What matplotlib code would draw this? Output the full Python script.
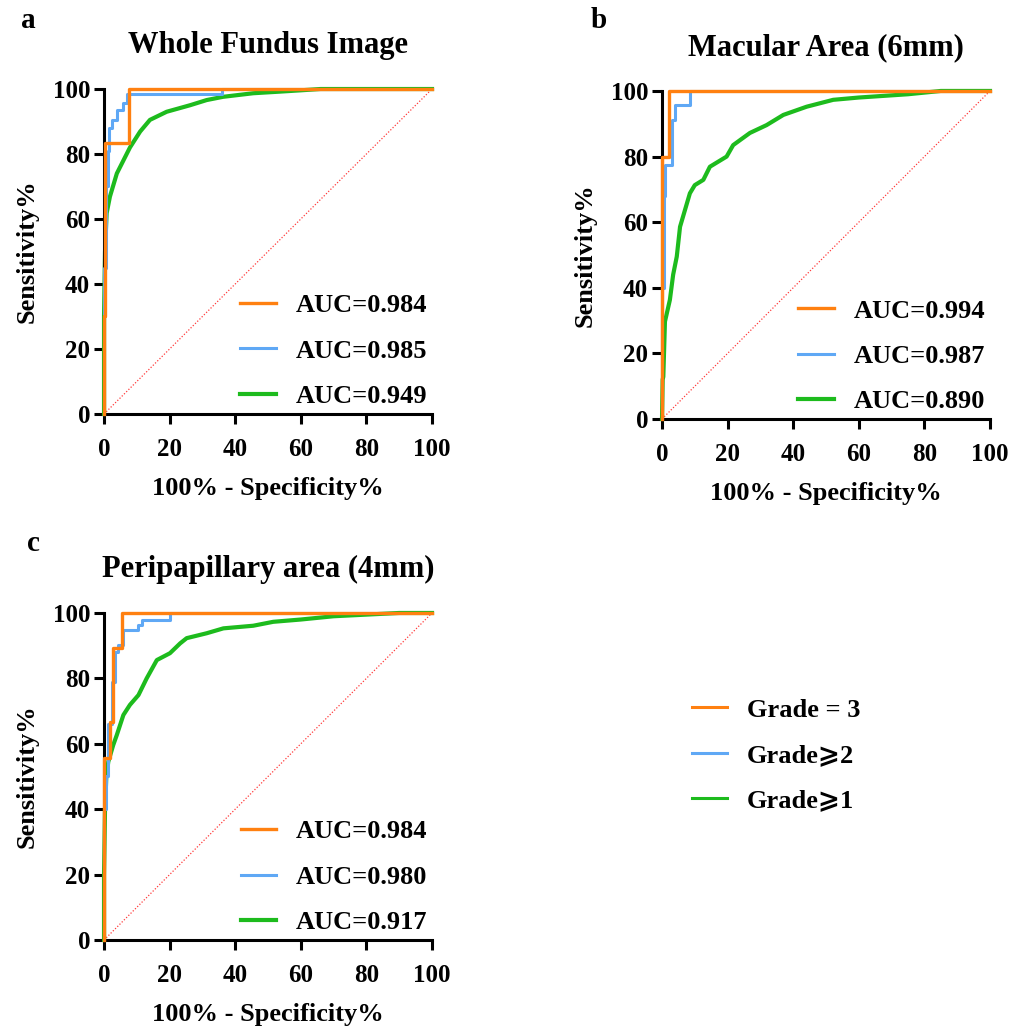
"""Curvas ROC por region: Whole fundus, macular, peripapilar."""

import matplotlib

matplotlib.use("Agg")
import matplotlib.pyplot as plt
from matplotlib.lines import Line2D

FAMILY = ["Liberation Serif", "DejaVu Serif", "DejaVu Sans"]
plt.rcParams["font.family"] = FAMILY
plt.rcParams["font.weight"] = "bold"

ORANGE = "#FF8010"
BLUE = "#5FA8F5"
GREEN = "#1DBB1D"

grades = ["Grade = 3", "Grade\u2a7e2", "Grade\u2a7e1"]

# --- a: Whole Fundus Image (vertices = top of each vertical jump, steps-post) ---
a_auc = ["AUC=0.984", "AUC=0.985", "AUC=0.949"]
a_g3_fpr = [0, 0, 0.3, 7.7, 100]
a_g3_tpr = [0, 30, 83.3, 100, 100]
a_g2_fpr = [0, 0, 0.6, 1.2, 1.5, 2.5, 3.9, 5.8, 6.9, 35.9, 100]
a_g2_tpr = [0, 45, 70, 81, 88, 90.5, 93.5, 95.7, 98.4, 100, 100]
a_g1_fpr = [0, 0, 0.3, 0.8, 1.8, 3.9, 5.9, 7.9, 11, 14, 19.1, 26.2, 31.3, 36.3, 45.5, 53.7, 60, 66, 100]
a_g1_tpr = [0, 30, 50, 61.8, 66.9, 74, 78, 82, 86.9, 90.5, 93, 95, 96.6, 97.6, 98.7, 99.2, 99.6, 100, 100]

# --- b: Macular Area (6mm) ---
b_auc = ["AUC=0.994", "AUC=0.987", "AUC=0.890"]
b_g3_fpr = [0, 0, 2.2, 100]
b_g3_tpr = [0, 80, 100, 100]
b_g2_fpr = [0, 0, 0.5, 0.9, 2.9, 4.0, 8.5, 100]
b_g2_tpr = [0, 40, 68, 77.4, 91, 95.7, 100, 100]
b_g1_fpr = [0, 0.2, 0.4, 0.9, 2.4, 3.4, 4.5, 5.5, 7, 8.5, 10, 12.6, 14.6, 19.7, 21.7,
            26.8, 31.9, 37, 44.1, 52.2, 60, 75, 85, 100]
b_g1_tpr = [0, 12, 12.9, 29.7, 36.3, 44, 49.5, 58.6, 63.7, 68.8, 71.3, 72.9, 76.9, 80,
            83.5, 87.2, 89.6, 92.7, 95.2, 97.3, 98, 99, 100, 100]

# --- c: Peripapillary area (4mm) ---
c_auc = ["AUC=0.984", "AUC=0.980", "AUC=0.917"]
c_g3_fpr = [0, 0, 1.8, 2.8, 5.4, 100]
c_g3_tpr = [0, 55.6, 66.8, 89.3, 100, 100]
c_g2_fpr = [0, 0, 0.6, 1.2, 2.3, 3.4, 4.4, 5.9, 10.5, 11.5, 20.1, 100]
c_g2_tpr = [0, 40, 50, 66, 79, 88.2, 90.2, 94.8, 96.3, 97.9, 100, 100]
c_g1_fpr = [0, 0, 0.3, 0.7, 1.3, 2.8, 3.9, 5.9, 7.9, 10.5, 13, 16.1, 20.1, 23.2, 25.2,
            31.3, 36.4, 45.5, 51.6, 60, 70, 90, 100]
c_g1_tpr = [0, 20, 40, 50, 54.5, 59.6, 62.7, 68.8, 71.9, 74.9, 80, 85.6, 87.7, 90.7,
            92.3, 93.8, 95.3, 96.1, 97.3, 98, 99, 100, 100]

ticks = [0, 20, 40, 60, 80, 100]

fig = plt.figure(figsize=(10.11, 10.29), dpi=100)


def roc_panel(rect, title, curves, auc_labels):
    ax = fig.add_axes(rect)
    ax.plot([0, 100], [0, 100], color="#FF3B3B", linestyle=(0, (1, 1.5)), linewidth=0.9)
    handles = []
    for (fpr, tpr, color, lw, step) in curves:
        (h,) = ax.plot(fpr, tpr, color=color, linewidth=lw, clip_on=False,
                       drawstyle="steps-post" if step else "default")
        handles.append(h)
    # el orden de dibujo: verde debajo, naranja arriba
    handles[0].set_zorder(4)
    handles[1].set_zorder(3)
    handles[2].set_zorder(2)
    ax.set_xlim(0, 100)
    ax.set_ylim(0, 100)
    ax.set_xticks(ticks)
    ax.set_yticks(ticks)
    for s in ["top", "right"]:
        ax.spines[s].set_visible(False)
    for s in ["left", "bottom"]:
        ax.spines[s].set_linewidth(2.2)
    ax.tick_params(width=2.2, length=7, labelsize=18)
    ax.tick_params(axis="x", pad=10)
    ax.tick_params(axis="y", pad=3)
    for lab in ax.get_xticklabels() + ax.get_yticklabels():
        lab.set_fontweight("bold")
    ax.set_xlabel("100% - Specificity%", fontsize=19, fontweight="bold", labelpad=12)
    ax.set_ylabel("Sensitivity%", fontsize=19, fontweight="bold", labelpad=10)
    ax.set_title(title, fontsize=22, fontweight="bold", pad=26)
    ax.legend(handles, auc_labels, loc="lower right", bbox_to_anchor=(1.058, -0.055),
              frameon=False, handlelength=1.33, handletextpad=0.76,
              labelspacing=0.83, prop={"weight": "bold", "size": 19})
    return ax


roc_panel([0.1029, 0.5977, 0.3244, 0.3158], "Whole Fundus Image",
          [(a_g3_fpr, a_g3_tpr, ORANGE, 2.4, True),
           (a_g2_fpr, a_g2_tpr, BLUE, 2.2, True),
           (a_g1_fpr, a_g1_tpr, GREEN, 3.0, False)], a_auc)
roc_panel([0.6548, 0.5928, 0.3244, 0.3188], "Macular Area (6mm)",
          [(b_g3_fpr, b_g3_tpr, ORANGE, 2.4, True),
           (b_g2_fpr, b_g2_tpr, BLUE, 2.2, True),
           (b_g1_fpr, b_g1_tpr, GREEN, 3.0, False)], b_auc)
roc_panel([0.1029, 0.0865, 0.3244, 0.3178], "Peripapillary area (4mm)",
          [(c_g3_fpr, c_g3_tpr, ORANGE, 2.4, True),
           (c_g2_fpr, c_g2_tpr, BLUE, 2.2, True),
           (c_g1_fpr, c_g1_tpr, GREEN, 3.0, False)], c_auc)

fig.text(0.021, 0.980, "a", fontsize=21, fontweight="bold", va="center")
fig.text(0.584, 0.980, "b", fontsize=21, fontweight="bold", va="center")
fig.text(0.027, 0.472, "c", fontsize=21, fontweight="bold", va="center")

grade_handles = [Line2D([], [], color=c, linewidth=2.2) for c in (ORANGE, BLUE, GREEN)]
fig.legend(grade_handles, grades, loc="center left", bbox_to_anchor=(0.661, 0.266),
           frameon=False, handlelength=1.33, handletextpad=0.76, labelspacing=0.83,
           prop={"weight": "bold", "size": 19, "family": FAMILY})

fig.savefig("out.png", dpi=100)
